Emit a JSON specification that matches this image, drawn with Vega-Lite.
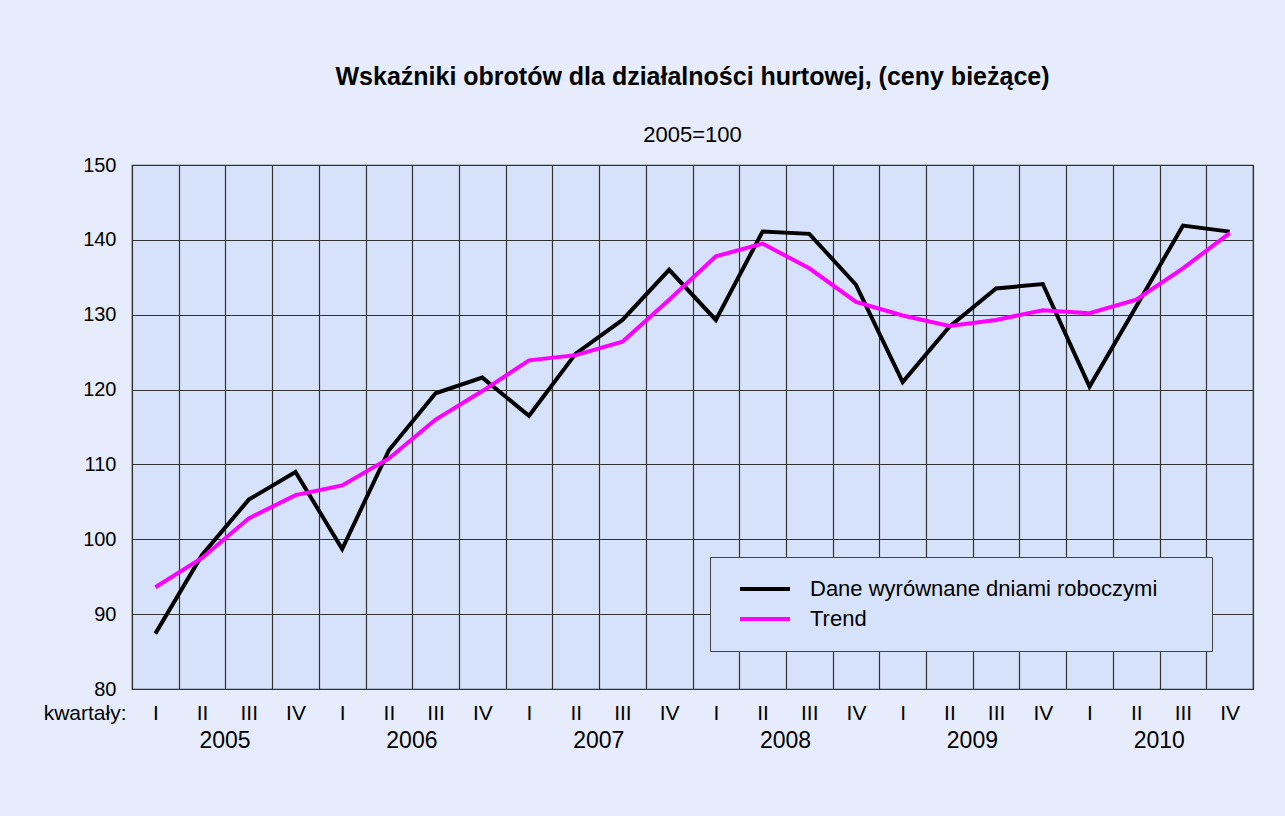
{
  "$schema": "https://vega.github.io/schema/vega-lite/v6.json",
  "autosize": {"type": "none"},
  "width": 1121,
  "height": 524,
  "padding": {"left": 132, "top": 165, "right": 32, "bottom": 127},
  "background": "#e6ecfb",
  "title": {
    "text": "Wskaźniki obrotów dla działalności hurtowej, (ceny bieżące)",
    "subtitle": "2005=100",
    "anchor": "middle",
    "font": "Liberation Sans",
    "fontSize": 25,
    "fontWeight": "bold",
    "color": "#000",
    "subtitleFont": "Liberation Sans",
    "subtitleFontSize": 22,
    "subtitleColor": "#000",
    "subtitlePadding": 35,
    "offset": 9
  },
  "datasets": {
    "dane": [
      {"q": "2005 I", "series": "Dane wyrównane dniami roboczymi", "value": 87.4},
      {"q": "2005 II", "series": "Dane wyrównane dniami roboczymi", "value": 97.9},
      {"q": "2005 III", "series": "Dane wyrównane dniami roboczymi", "value": 105.3},
      {"q": "2005 IV", "series": "Dane wyrównane dniami roboczymi", "value": 109.0},
      {"q": "2006 I", "series": "Dane wyrównane dniami roboczymi", "value": 98.7},
      {"q": "2006 II", "series": "Dane wyrównane dniami roboczymi", "value": 111.9},
      {"q": "2006 III", "series": "Dane wyrównane dniami roboczymi", "value": 119.5},
      {"q": "2006 IV", "series": "Dane wyrównane dniami roboczymi", "value": 121.6},
      {"q": "2007 I", "series": "Dane wyrównane dniami roboczymi", "value": 116.5},
      {"q": "2007 II", "series": "Dane wyrównane dniami roboczymi", "value": 124.8},
      {"q": "2007 III", "series": "Dane wyrównane dniami roboczymi", "value": 129.3},
      {"q": "2007 IV", "series": "Dane wyrównane dniami roboczymi", "value": 136.0},
      {"q": "2008 I", "series": "Dane wyrównane dniami roboczymi", "value": 129.3},
      {"q": "2008 II", "series": "Dane wyrównane dniami roboczymi", "value": 141.1},
      {"q": "2008 III", "series": "Dane wyrównane dniami roboczymi", "value": 140.8},
      {"q": "2008 IV", "series": "Dane wyrównane dniami roboczymi", "value": 134.0},
      {"q": "2009 I", "series": "Dane wyrównane dniami roboczymi", "value": 121.0},
      {"q": "2009 II", "series": "Dane wyrównane dniami roboczymi", "value": 128.4},
      {"q": "2009 III", "series": "Dane wyrównane dniami roboczymi", "value": 133.5},
      {"q": "2009 IV", "series": "Dane wyrównane dniami roboczymi", "value": 134.1},
      {"q": "2010 I", "series": "Dane wyrównane dniami roboczymi", "value": 120.4},
      {"q": "2010 II", "series": "Dane wyrównane dniami roboczymi", "value": 131.1},
      {"q": "2010 III", "series": "Dane wyrównane dniami roboczymi", "value": 141.9},
      {"q": "2010 IV", "series": "Dane wyrównane dniami roboczymi", "value": 141.1}
    ],
    "trend": [
      {"q": "2005 I", "series": "Trend", "value": 93.6},
      {"q": "2005 II", "series": "Trend", "value": 97.5},
      {"q": "2005 III", "series": "Trend", "value": 102.8},
      {"q": "2005 IV", "series": "Trend", "value": 105.9},
      {"q": "2006 I", "series": "Trend", "value": 107.2},
      {"q": "2006 II", "series": "Trend", "value": 110.8},
      {"q": "2006 III", "series": "Trend", "value": 116.0},
      {"q": "2006 IV", "series": "Trend", "value": 119.8},
      {"q": "2007 I", "series": "Trend", "value": 123.9},
      {"q": "2007 II", "series": "Trend", "value": 124.6},
      {"q": "2007 III", "series": "Trend", "value": 126.4},
      {"q": "2007 IV", "series": "Trend", "value": 132.0},
      {"q": "2008 I", "series": "Trend", "value": 137.8},
      {"q": "2008 II", "series": "Trend", "value": 139.5},
      {"q": "2008 III", "series": "Trend", "value": 136.2},
      {"q": "2008 IV", "series": "Trend", "value": 131.7},
      {"q": "2009 I", "series": "Trend", "value": 129.9},
      {"q": "2009 II", "series": "Trend", "value": 128.5},
      {"q": "2009 III", "series": "Trend", "value": 129.3},
      {"q": "2009 IV", "series": "Trend", "value": 130.6},
      {"q": "2010 I", "series": "Trend", "value": 130.2},
      {"q": "2010 II", "series": "Trend", "value": 132.0},
      {"q": "2010 III", "series": "Trend", "value": 136.2},
      {"q": "2010 IV", "series": "Trend", "value": 140.9}
    ]
  },
  "config": {
    "font": "Liberation Sans",
    "view": {"stroke": "#333", "strokeWidth": 1.2, "fill": "#d6e2fa"},
    "axis": {"labelFont": "Liberation Sans", "labelColor": "#000", "titleColor": "#000"}
  },
  "resolve": {"axis": {"x": "independent"}},
  "layer": [
    {
      "data": {"name": "dane"},
      "mark": {"type": "line", "strokeWidth": 4, "strokeJoin": "miter"},
      "encoding": {
        "x": {
          "field": "q",
          "type": "ordinal",
          "sort": null,
          "scale": {"paddingInner": 0, "paddingOuter": 0},
          "axis": {
            "orient": "bottom",
            "tickBand": "extent",
            "grid": true,
            "gridColor": "#333",
            "gridWidth": 1.2,
            "gridOpacity": 1,
            "ticks": false,
            "domain": false,
            "labelAngle": 0,
            "labelFontSize": 21,
            "labelPadding": 13,
            "labelExpr": "split(datum.value, ' ')[1]",
            "title": "kwartały:",
            "titleFontSize": 21,
            "titleFontWeight": "normal",
            "titleAlign": "right",
            "titleBaseline": "top",
            "titleAnchor": "start",
            "titleX": -6,
            "titleY": 13,
            "titleAngle": 0
          }
        },
        "y": {
          "field": "value",
          "type": "quantitative",
          "scale": {"domain": [80, 150], "nice": false, "zero": false},
          "axis": {
            "values": [80, 90, 100, 110, 120, 130, 140, 150],
            "grid": true,
            "gridColor": "#333",
            "gridWidth": 1.2,
            "gridOpacity": 1,
            "ticks": false,
            "domain": false,
            "labelFontSize": 20,
            "labelPadding": 16,
            "labelBaseline": "middle",
            "labelOffset": 0,
            "title": null
          }
        },
        "color": {
          "field": "series",
          "type": "nominal",
          "scale": {"domain": ["Dane wyrównane dniami roboczymi", "Trend"], "range": ["#000000", "#ff00ff"]},
          "legend": {
            "orient": "none",
            "legendX": 578,
            "legendY": 392,
            "title": "\u00a0",
            "titleOrient": "right",
            "titlePadding": 35,
            "titleFontSize": 10,
            "fillColor": "#d6e2fa",
            "strokeColor": "#444",
            "padding": 20,
            "clipHeight": 24,
            "rowPadding": 6,
            "symbolType": "stroke",
            "symbolSize": 2500,
            "symbolStrokeWidth": 4,
            "symbolOffset": 8,
            "labelFontSize": 22,
            "labelFont": "Liberation Sans",
            "labelColor": "#000",
            "labelOffset": 18,
            "labelLimit": 800
          }
        }
      }
    },
    {
      "data": {"name": "trend"},
      "mark": {"type": "line", "strokeWidth": 4},
      "encoding": {
        "x": {
          "field": "q",
          "type": "ordinal",
          "sort": null,
          "axis": {
            "orient": "bottom",
            "values": ["2005 II", "2006 II", "2007 II", "2008 II", "2009 II", "2010 II"],
            "grid": false,
            "ticks": false,
            "domain": false,
            "labelAngle": 0,
            "labelFontSize": 23,
            "labelPadding": 40,
            "labelOffset": 23,
            "labelExpr": "split(datum.value, ' ')[0]",
            "title": null
          }
        },
        "y": {"field": "value", "type": "quantitative"},
        "color": {"field": "series", "type": "nominal"}
      }
    }
  ]
}
